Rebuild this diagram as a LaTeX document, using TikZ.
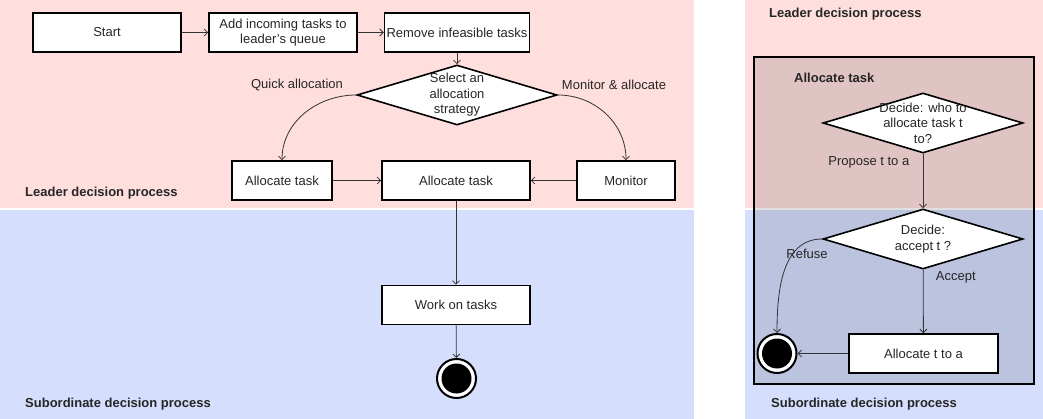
\documentclass[tikz,border=0pt]{standalone}
\usepackage{fontspec}
\setmainfont{Liberation Sans}
\usetikzlibrary{positioning, calc}
\usetikzlibrary{shapes.geometric, arrows.meta}

\definecolor{leaderpink}{HTML}{FFDEDE}
\definecolor{subblue}{HTML}{D5DFFD}
\definecolor{edgegray}{HTML}{333333}

\begin{document}
\begin{tikzpicture}[x=1pt, y=-1pt,
		every node/.style={font=\fontsize{13}{15.5}\selectfont, text=black!85, align=center},
		box/.style={rectangle, draw=black, line width=1.6pt, fill=white, minimum height=39pt, inner sep=2pt},
		choice/.style={diamond, draw=black, line width=1.6pt, fill=white,
			minimum width=200pt, minimum height=60pt, inner sep=0pt},
		lane/.style={font=\fontsize{13}{15}\selectfont\bfseries, anchor=west, inner sep=0pt},
		flow/.style={draw=edgegray, line width=0.8pt, -{Straight Barb[length=3.5pt, width=7pt]}},
		finish/.style={circle, draw=black, line width=2pt, fill=white, minimum size=39pt, inner sep=0pt,
			path picture={\fill [black] (path picture bounding box.center) circle (15pt);}}
	]
			\useasboundingbox (0,0) rectangle (1043,419);
			\fill [leaderpink] (0,0) rectangle (694,208);
			\fill [subblue] (0,210) rectangle (694,419);
			\fill [leaderpink] (745,0) rectangle (1043,208);
			\fill [subblue] (745,210) rectangle (1043,419);
			\draw [line width=1.6pt, fill=black, fill opacity=0.12] (754,57) rectangle (1034,384);

			\node [lane] at (25,193) {Leader decision process};
			\node [lane] at (25,404) {Subordinate decision process};
			\node [lane] at (769,14) {Leader decision process};
			\node [lane] at (771,404) {Subordinate decision process};
			\node [lane] at (794,78) {Allocate task};

			\node (start) [box, minimum width=148pt] at (107,32.5) {Start};
			\node (queue) [box, minimum width=148pt] at (283,32.5) {Add incoming tasks to\\leader's queue};
			\node (prune) [box, minimum width=144pt] at (457,32.5) {Remove infeasible tasks};
			\node (strategy) [choice] at (457,95) {};
			\node at (strategy.center) {Select an\\allocation\\strategy};
			\node (quick) [box, minimum width=100pt] at (282,180.5) {Allocate task};
			\node (alloc) [box, minimum width=148pt] at (456,180.5) {Allocate task};
			\node (monitor) [box, minimum width=98pt] at (626,180.5) {Monitor};
			\node (work) [box, minimum width=148pt] at (456,305) {Work on tasks};
			\node (stop) [finish] at (456.5,378.5) {};
			\node at (297,85) {Quick allocation};
			\node at (614,85) {Monitor \& allocate};

			\draw [flow] (start) -- (queue);
			\draw [flow] (queue) -- (prune);
			\draw [flow] (prune) -- (strategy);
			\draw [flow] (strategy.west) to [out=180, in=90] (quick.north);
			\draw [flow] (strategy.east) to [out=0, in=90] (monitor.north);
			\draw [flow] (quick) -- (alloc);
			\draw [flow] (monitor) -- (alloc);
			\draw [flow] (alloc) -- (work);
			\draw [flow] (work) -- (stop);

			\node (who) [choice] at (923,123) {};
			\node at (who.center) {Decide: who to\\allocate task t\\to?};
			\node (accept) [choice] at (923,239) {};
			\node at (accept.center) {Decide:\\accept t ?};
			\node (assign) [box, minimum width=149pt] at (923.5,353.5) {Allocate t to a};
			\node (drop) [finish] at (777,353.5) {};
			\node at (807,254) {Refuse};

			\draw [flow] (who) -- node [pos=0.15, left=10pt] {Propose t to a} (accept);
			\draw [flow] (accept) -- node [pos=0.12, right=9pt] {Accept} (assign);
			\draw [flow] (accept.west) to [out=180, in=90] (drop.north);
			\draw [flow] (assign) -- (drop);
		\end{tikzpicture}
\end{document}
